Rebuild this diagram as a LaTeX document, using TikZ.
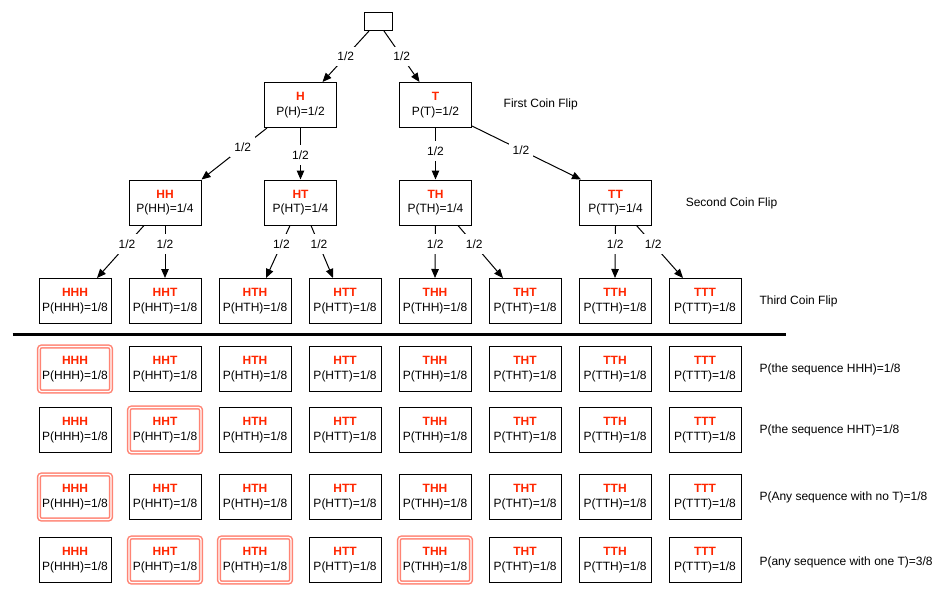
\documentclass[tikz,border=0pt]{standalone}
\usepackage{fontspec}
\setmainfont{Liberation Sans}
\usetikzlibrary{arrows.meta}
\definecolor{hred}{RGB}{255,38,0}
\definecolor{hlc}{RGB}{255,132,116}
\newcommand{\seqlbl}[2]{\textcolor{hred}{\textbf{#1}}\\P(#1)=#2}
\begin{document}
\begin{tikzpicture}[x=1pt,y=-1pt,
  every node/.style={font=\fontsize{12}{14.4}\selectfont},
  box/.style={draw, line width=1pt, minimum width=72pt, minimum height=45pt, inner sep=0pt, align=center},
  hlbox/.style={box, draw=hlc, double=white, double distance=1.2pt, line width=1.5pt, rounded corners=2.5pt},
  arr/.style={line width=1pt, -{Triangle[length=9pt,width=7.5pt]}},
  lab/.style={fill=white, inner xsep=4pt, inner ysep=5.5pt},
  side/.style={anchor=west}]
\useasboundingbox (0,0) rectangle (944,594);

% root and first flip
\node[draw, line width=1pt, minimum width=28pt, minimum height=18pt, inner sep=0pt] (root) at (378,21.5) {};
\node[box] (H) at (300.5,105) {\seqlbl{H}{1/2}};
\node[box] (T) at (435.5,105) {\seqlbl{T}{1/2}};
% second flip
\node[box] (HH) at (165,202.5) {\seqlbl{HH}{1/4}};
\node[box] (HT) at (300.5,202.5) {\seqlbl{HT}{1/4}};
\node[box] (TH) at (435.5,202.5) {\seqlbl{TH}{1/4}};
\node[box] (TT) at (615.5,202.5) {\seqlbl{TT}{1/4}};
% third flip
\foreach \s [count=\i from 0] in {HHH,HHT,HTH,HTT,THH,THT,TTH,TTT}
  \node[box] (\s) at (75+90*\i,301) {\seqlbl{\s}{1/8}};

% side labels
\node (f1) at (540.7,104) {First Coin Flip};
\node (f2) at (731.5,203) {Second Coin Flip};
\node[side] (f3) at (756,301) {Third Coin Flip};

% connectors
\draw[arr] ([xshift=-9pt]root.south) -- node[lab]{1/2} ([xshift=22pt]H.north);
\draw[arr] ([xshift=6pt]root.south) -- node[lab]{1/2} ([xshift=-16pt]T.north);
\draw[arr] ([xshift=3pt]H.south west) -- node[lab,pos=0.37]{1/2} (HH.north east);
\draw[arr] (H.south) -- node[lab,pos=0.53]{1/2} (HT.north);
\draw[arr] (T.south) -- node[lab,pos=0.45]{1/2} (TH.north);
\draw[arr] ([yshift=2pt]T.south east) -- node[lab,pos=0.45]{1/2} ([xshift=2pt]TT.north west);

\draw[arr] ([xshift=-21pt]HH.south) -- node[lab,pos=0.36]{1/2} ([xshift=22pt]HHH.north);
\draw[arr] (HH.south) -- node[lab,pos=0.36]{1/2} (HHT.north);
\draw[arr] ([xshift=-10.5pt]HT.south) -- node[lab,pos=0.36]{1/2} ([xshift=11pt]HTH.north);
\draw[arr] ([xshift=10.5pt]HT.south) -- node[lab,pos=0.36]{1/2} ([xshift=-12pt]HTT.north);
\draw[arr] (TH.south) -- node[lab,pos=0.36]{1/2} (THH.north);
\draw[arr] ([xshift=22.5pt]TH.south) -- node[lab,pos=0.36]{1/2} ([xshift=-22pt]THT.north);
\draw[arr] (TT.south) -- node[lab,pos=0.36]{1/2} (TTH.north);
\draw[arr] ([xshift=21pt]TT.south) -- node[lab,pos=0.36]{1/2} ([xshift=-22pt]TTT.north);

% separator
\coordinate (sepL) at (12.7,334.3);
\coordinate (sepR) at (785.7,334.3);
\draw[line width=3pt] (sepL) -- (sepR);

% bottom rows
\foreach \s/\st [count=\i from 0] in {HHH/hlbox,HHT/box,HTH/box,HTT/box,THH/box,THT/box,TTH/box,TTT/box}
  \node[\st] (A\s) at (75+90*\i,369) {\seqlbl{\s}{1/8}};
\foreach \s/\st [count=\i from 0] in {HHH/box,HHT/hlbox,HTH/box,HTT/box,THH/box,THT/box,TTH/box,TTT/box}
  \node[\st] (B\s) at (75+90*\i,430) {\seqlbl{\s}{1/8}};
\foreach \s/\st [count=\i from 0] in {HHH/hlbox,HHT/box,HTH/box,HTT/box,THH/box,THT/box,TTH/box,TTT/box}
  \node[\st] (C\s) at (75+90*\i,497) {\seqlbl{\s}{1/8}};
\foreach \s/\st [count=\i from 0] in {HHH/box,HHT/hlbox,HTH/hlbox,HTT/box,THH/hlbox,THT/box,TTH/box,TTT/box}
  \node[\st] (D\s) at (75+90*\i,560) {\seqlbl{\s}{1/8}};

\node[side] (ra) at (756,369) {P(the sequence HHH)=1/8};
\node[side] (rb) at (756,430) {P(the sequence HHT)=1/8};
\node[side] (rc) at (756,497) {P(Any sequence with no T)=1/8};
\node[side] (rd) at (756,562) {P(any sequence with one T)=3/8};
\end{tikzpicture}
\end{document}
